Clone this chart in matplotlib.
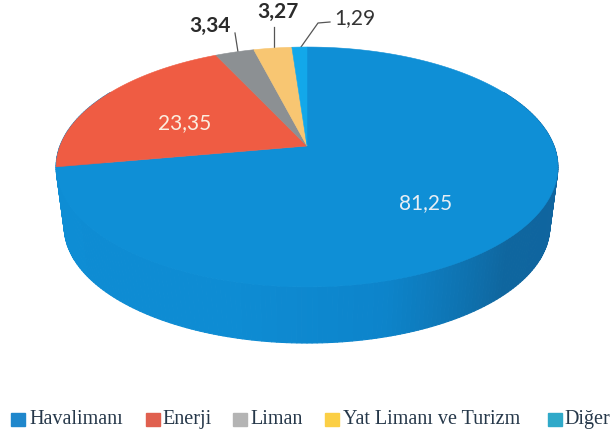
import numpy as np
import matplotlib
matplotlib.use('Agg')
import matplotlib.pyplot as plt
from matplotlib.collections import PolyCollection
from matplotlib.colors import to_rgb

labels = ['Havalimanı', 'Enerji', 'Liman', 'Yat Limanı ve Turizm', 'Diğer']
values = [81.25, 23.35, 3.34, 3.27, 1.29]
value_text = ['81,25', '23,35', '3,34', '3,27', '1,29']
colors = ['#0f8fd6', '#ef5c43', '#8c9093', '#f8c672', '#12a8ea']
legend_colors = ['#1f87cc', '#e0604f', '#b4b4b4', '#fbcf45', '#2fa9c9']


# pie seen in perspective, the near side is bigger
def project(deg, a=247, b=116.3, cy=146):
    t = np.radians(deg)
    u, v = np.sin(t), np.cos(t)
    w = 1 + 0.175 * v
    return 307 + a * u / w, cy - b * v / w


def mix(deg):
    # shading of the rim, dark only on the right front
    stops = [0, 95, 135, 165, 195, 360]
    cols = np.array([to_rgb(c) for c in
                     ['#10649f', '#10649f', '#0f669f', '#0d84cb', '#0e8cd3', '#0e8ed5']])
    return [np.interp(deg, stops, cols[:, i]) for i in range(3)]


fig = plt.figure(figsize=(6.1, 4.37), dpi=100)
ax = fig.add_axes([0, 0, 1, 1])
ax.set_xlim(0, 610)
ax.set_ylim(437, 0)
ax.axis('off')

# rim
edges = np.linspace(60, 300, 241)
tx, ty = project(edges)
bx, by = project(edges, a=239, b=112.8, cy=206.3)
quads = []
rim = []
for i in range(len(edges) - 1):
    quads.append([(tx[i], ty[i]), (tx[i + 1], ty[i + 1]), (bx[i + 1], by[i + 1]), (bx[i], by[i])])
    rim.append(mix((edges[i] + edges[i + 1]) / 2))
ax.add_collection(PolyCollection(quads, facecolors=rim, edgecolors=rim, linewidths=0.8))

# top face, clockwise from twelve o'clock
angles = np.concatenate([[0], np.cumsum(values)]) / sum(values) * 360
for i in range(len(values)):
    th = np.linspace(angles[i], angles[i + 1], 200)
    x, y = project(th)
    ax.fill(np.r_[307, x], np.r_[146, y], color=colors[i], lw=0.4, zorder=3)

# value labels
ax.text(426, 203, value_text[0], color='#e8eef4', fontsize=15, family='Lato', ha='center', va='center', zorder=5)
ax.text(185, 123, value_text[1], color='#fbeee0', fontsize=15, family='Lato', ha='center', va='center', zorder=5)
ax.text(210, 26, value_text[2], color='#2b2b2b', fontsize=15, family='Lato', weight='bold', ha='center', va='center')
ax.text(278, 12, value_text[3], color='#2b2b2b', fontsize=15, family='Lato', weight='bold', ha='center', va='center')
ax.text(355, 18, value_text[4], color='#333333', fontsize=15, family='Lato', ha='center', va='center')

# leader lines
ax.plot([235, 238], [33, 52], color='#555555', lw=0.9)
ax.plot([274, 274], [27, 50], color='#555555', lw=0.9)
ax.plot([330, 318, 301], [22, 23, 47], color='#555555', lw=0.9)

# legend
swatch_x = [11, 146, 233, 325, 548]
text_x = [29, 162, 250, 343, 564]
for i in range(len(labels)):
    ax.add_patch(plt.Rectangle((swatch_x[i], 413), 14, 13, color=legend_colors[i]))
    ax.text(text_x[i], 419.5, labels[i], color='#26384a', fontsize=14.5,
            family='Liberation Serif', ha='left', va='center')

fig.savefig('out.png', dpi=100)
